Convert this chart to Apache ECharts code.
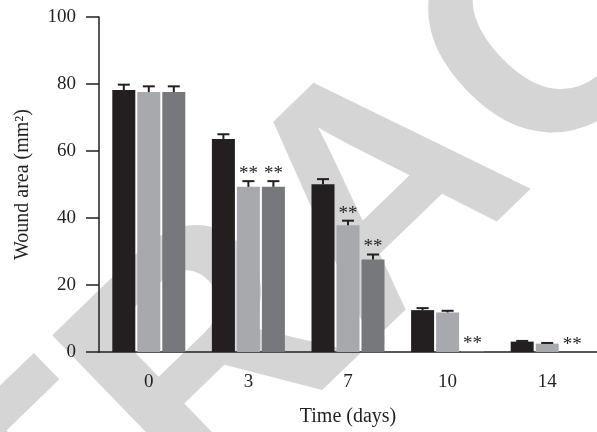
<!DOCTYPE html>
<html>
<head>
<meta charset="utf-8">
<script src="https://cdn.jsdelivr.net/npm/echarts@6/dist/echarts.min.js"></script>
<style>html,body{margin:0;padding:0;background:#fff}#c{width:597px;height:432px}</style>
</head>
<body>
<div id="c"></div>
<script>
var categories = ['0', '3', '7', '10', '14'];
var yTicks = [0, 20, 40, 60, 80, 100];
var groupA = [78.2, 63.6, 50.1, 12.5, 3.1];
var errA = [1.6, 1.4, 1.5, 0.6, 0.2];
var groupB = [77.6, 49.3, 37.8, 11.8, 2.5];
var errB = [1.7, 1.7, 1.4, 0.5, 0.2];
var groupC = [77.6, 49.3, 27.6, 0.3, 0];
var errC = [1.7, 1.7, 1.5, 0, 0];
var starsA = ['', '', '', '', ''];
var starsB = ['', '**', '**', '', ''];
var starsC = ['', '**', '**', '**', '**'];

var ink = '#231f20';
var serif = 'Liberation Serif, Times New Roman, serif';
var BW = 23, GAP = 2;

function errSeries(vals, errs, stars, k) {
  var data = vals.map(function (v, i) { return [i, v, errs[i], stars[i]]; });
  var off = (k - 1) * (BW + GAP);
  return {
    type: 'custom',
    z: 5,
    data: data,
    encode: { x: 0, y: 1 },
    renderItem: function (params, api) {
      var i = api.value(0), v = api.value(1), e = api.value(2);
      var s = data[params.dataIndex][3];
      var base = api.coord([i, v]);
      var top = api.coord([i, v + e]);
      var x = base[0] + off;
      var children = [];
      if (e > 0) {
        children.push({ type: 'line', shape: { x1: x, y1: base[1], x2: x, y2: top[1] }, style: { stroke: ink, lineWidth: 2 } });
        children.push({ type: 'line', shape: { x1: x - 6, y1: top[1], x2: x + 6, y2: top[1] }, style: { stroke: ink, lineWidth: 2 } });
      }
      if (s) {
        children.push({ type: 'text', style: { x: x, y: top[1] - 7, text: s, font: '19px ' + serif, fill: ink, align: 'center', verticalAlign: 'middle' } });
      }
      return { type: 'group', children: children };
    }
  };
}

var chart = echarts.init(document.getElementById('c'));
chart.setOption({
  animation: false,
  backgroundColor: '#fff',
  graphic: [{
    type: 'text',
    z: -10,
    x: 388, y: 200,
    rotation: 44 * Math.PI / 180,
    style: { text: 'RETRACTED', font: 'bold 330px Liberation Sans, Arial, sans-serif', fill: '#d5d5d5', align: 'center', verticalAlign: 'middle' }
  }],
  grid: { left: 99, right: -3, top: 17, bottom: 80, containLabel: false },
  xAxis: {
    type: 'category',
    data: categories,
    name: 'Time (days)',
    nameLocation: 'middle',
    nameGap: 55,
    nameTextStyle: { fontFamily: serif, fontSize: 20, color: ink },
    axisLine: { lineStyle: { color: ink, width: 1.5 } },
    axisTick: { alignWithLabel: true, length: 12, lineStyle: { color: ink, width: 1.5 } },
    axisLabel: { fontFamily: serif, fontSize: 19, color: ink, margin: 21 }
  },
  yAxis: {
    type: 'value',
    min: yTicks[0], max: yTicks[yTicks.length - 1], interval: 20,
    name: 'Wound area (mm²)',
    nameLocation: 'middle',
    nameRotate: 90,
    nameGap: 66,
    nameTextStyle: { fontFamily: serif, fontSize: 20, color: ink },
    axisLine: { show: true, lineStyle: { color: ink, width: 1.5 } },
    axisTick: { show: true, length: 13, lineStyle: { color: ink, width: 1.5 } },
    axisLabel: { fontFamily: serif, fontSize: 19, color: ink, margin: 23 },
    splitLine: { show: false }
  },
  series: [
    { type: 'bar', data: groupA, barWidth: BW, barGap: (GAP / BW * 100) + '%', itemStyle: { color: ink } },
    { type: 'bar', data: groupB, barWidth: BW, barGap: (GAP / BW * 100) + '%', itemStyle: { color: '#a7a9ac' } },
    { type: 'bar', data: groupC, barWidth: BW, barGap: (GAP / BW * 100) + '%', itemStyle: { color: '#77787b' } },
    errSeries(groupA, errA, starsA, 0),
    errSeries(groupB, errB, starsB, 1),
    errSeries(groupC, errC, starsC, 2)
  ]
});
</script>
</body>
</html>
